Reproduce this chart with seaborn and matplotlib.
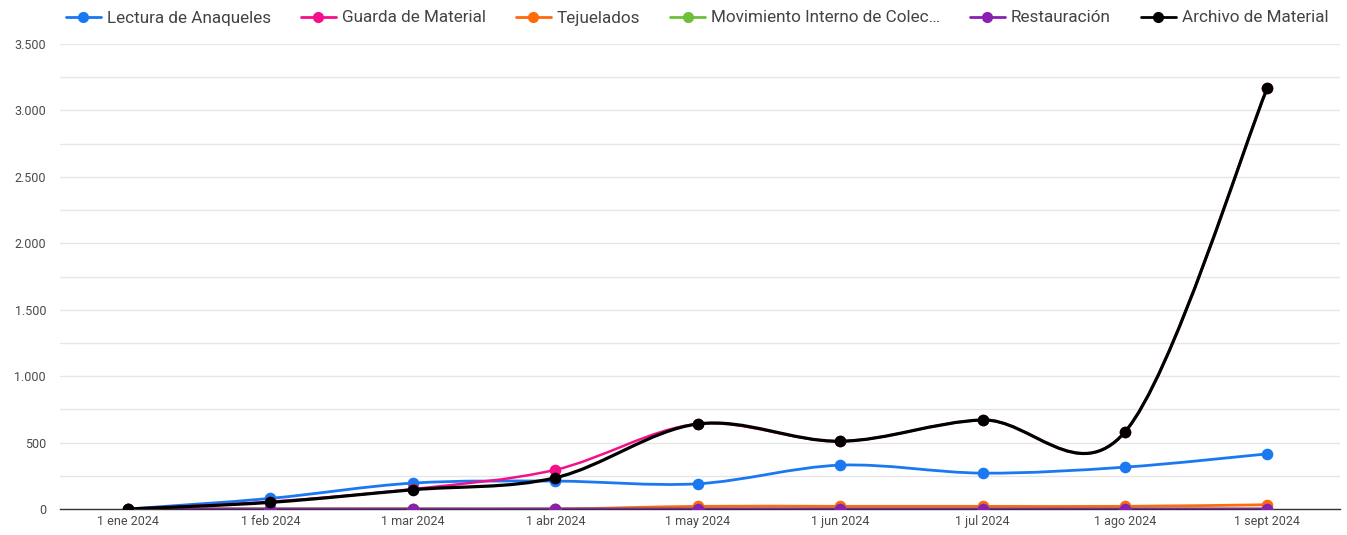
import numpy as np
import pandas as pd
import seaborn as sns
import matplotlib
matplotlib.use("Agg")
import matplotlib.pyplot as plt
from matplotlib.path import Path
from matplotlib.patches import PathPatch
from matplotlib.lines import Line2D
from matplotlib.ticker import FuncFormatter, MultipleLocator

# Monthly activity per task
months = ["1 ene 2024", "1 feb 2024", "1 mar 2024", "1 abr 2024", "1 may 2024",
          "1 jun 2024", "1 jul 2024", "1 ago 2024", "1 sept 2024"]

lectura_anaqueles = [0, 80, 195, 210, 190, 330, 270, 315, 415]
guarda_material = [0, 55, 150, 295, 640, 510, 670, 580, 3170]
tejuelados = [0, 0, 0, 0, 20, 20, 20, 20, 32]
movimiento_interno = [0, 0, 0, 0, 0, 0, 0, 0, 0]
restauracion = [0, 0, 0, 0, 0, 0, 0, 0, 0]
archivo_material = [0, 50, 145, 235, 640, 510, 670, 580, 3170]

series_names = ["Lectura de Anaqueles", "Guarda de Material", "Tejuelados",
                "Movimiento Interno de Colec…", "Restauración", "Archivo de Material"]
series_values = [lectura_anaqueles, guarda_material, tejuelados,
                 movimiento_interno, restauracion, archivo_material]
colors = ["#1a78f0", "#f50f8a", "#ff6a0a", "#6fbf3a", "#8a1fb0", "#000000"]
widths = [2.0, 1.8, 2.0, 2.0, 2.0, 2.3]

sns.set_theme(style="white")
plt.rcParams["font.family"] = ["Roboto", "DejaVu Sans"]

fig = plt.figure(figsize=(13.47, 5.35), dpi=100)
ax = fig.add_axes([60 / 1347, 1 - 509 / 535, 1280 / 1347, (509 - 44) / 535])

x = np.arange(len(months))


def smooth_path(xs, ys):
    """Catmull-Rom curve through the points, expressed as cubic Bezier segments."""
    xs = np.asarray(xs, float)
    ys = np.asarray(ys, float)
    n = len(xs)
    verts = [(xs[0], ys[0])]
    codes = [Path.MOVETO]
    for i in range(n - 1):
        p0 = i - 1 if i > 0 else 0
        p3 = i + 2 if i + 2 < n else n - 1
        t1x = (xs[i + 1] - xs[p0]) / 2
        t1y = (ys[i + 1] - ys[p0]) / 2
        t2x = (xs[p3] - xs[i]) / 2
        t2y = (ys[p3] - ys[i]) / 2
        verts += [(xs[i] + t1x / 3, ys[i] + t1y / 3),
                  (xs[i + 1] - t2x / 3, ys[i + 1] - t2y / 3),
                  (xs[i + 1], ys[i + 1])]
        codes += [Path.CURVE4] * 3
    return Path(verts, codes)


for k, (name, vals, col, lw) in enumerate(zip(series_names, series_values, colors, widths)):
    df = pd.DataFrame({"pos": x, "valor": vals})
    patch = PathPatch(smooth_path(df["pos"], df["valor"]), facecolor="none",
                      edgecolor=col, linewidth=lw, zorder=3 + k, capstyle="round")
    ax.add_patch(patch)
    sns.scatterplot(data=df, x="pos", y="valor", color=col, s=70, edgecolor=col,
                    linewidth=0, ax=ax, zorder=3.5 + k, legend=False)

ax.set_xlim(-0.478, 8.51)
ax.set_ylim(0, 3500)
ax.yaxis.set_major_locator(MultipleLocator(500))
ax.yaxis.set_minor_locator(MultipleLocator(250))
ax.yaxis.set_major_formatter(FuncFormatter(lambda v, p: f"{int(v):,}".replace(",", ".")))
ax.set_xticks(x)
ax.set_xticklabels(months)
ax.grid(axis="y", which="both", color="#e6e6e6", linewidth=1.0)
ax.grid(axis="x", visible=False)
ax.set_axisbelow(True)
for side in ["top", "right", "left"]:
    ax.spines[side].set_visible(False)
ax.spines["bottom"].set_color("#333333")
ax.spines["bottom"].set_linewidth(1.0)
ax.spines["bottom"].set_zorder(2.5)
ax.tick_params(axis="y", which="both", length=0, labelsize=9, labelcolor="#4a4a4a", pad=10)
ax.tick_params(axis="x", length=0, labelsize=9, labelcolor="#4a4a4a", pad=4)
ax.set_xlabel("")
ax.set_ylabel("")

handles = [Line2D([], [], color=c, linewidth=2.0, marker="o", markersize=7)
           for c in colors]
leg = fig.legend(handles, series_names, loc="center", ncol=6,
                 bbox_to_anchor=(697 / 1347, 1 - 18 / 535), frameon=False,
                 fontsize=12.3, handlelength=2.05, handletextpad=0.35,
                 columnspacing=1.75, borderaxespad=0)
for t in leg.get_texts():
    t.set_color("#444444")

fig.savefig("out.png", dpi=100, facecolor="white")
